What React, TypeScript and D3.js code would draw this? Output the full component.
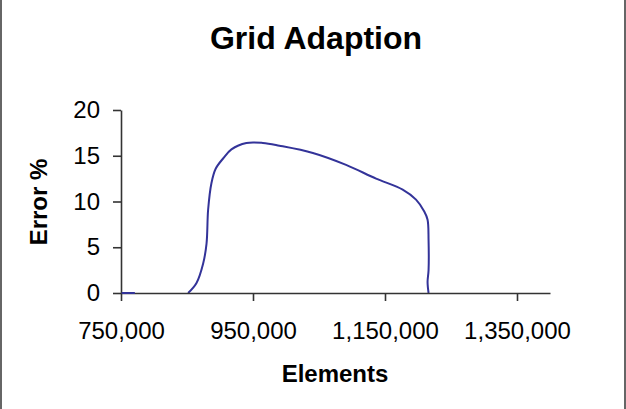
import React, { useRef, useEffect } from "react";
import * as d3 from "d3";

const width = 626;
const height = 409;
const margin = { top: 110, left: 121, bottom: 116, right: 76 };

// x = number of elements, y = error %
const elements = [
  851700, 864400, 874400, 879600, 882000, 887000, 893600, 904700, 917300,
  940000, 965000, 990000, 1040700, 1091000, 1136500, 1176800, 1197000,
  1209500, 1214500, 1216000, 1216000, 1214500, 1216000,
];
const errorPct = [
  0, 1.1, 3.2, 5.4, 9.1, 12.0, 13.6, 14.7, 15.7, 16.4, 16.4, 16.1, 15.3,
  14.0, 12.5, 11.3, 10.2, 8.9, 8.0, 5.8, 2.5, 1.2, 0,
];
// short blue piece lying on the axis at the left end
const leadElements = [751000, 771000];
const leadError = [0, 0];

const xTicks = [750000, 950000, 1150000, 1350000];
const yTicks = [0, 5, 10, 15, 20];
const xDomain = [750000, 1400000];
const yDomain = [0, 20];

const font = "'Liberation Sans', Arial, Helvetica, sans-serif";

const App = () => {
  const xRef = useRef<SVGGElement>(null);
  const yRef = useRef<SVGGElement>(null);

  const x = d3.scaleLinear().domain(xDomain).range([margin.left, width - margin.right]);
  const y = d3.scaleLinear().domain(yDomain).range([height - margin.bottom, margin.top]);

  useEffect(() => {
    const xa = d3.select(xRef.current);
    xa.selectAll("*").remove();
    xa.call(
      d3.axisBottom(x).tickValues(xTicks).tickFormat(d3.format(",")).tickSize(8).tickSizeOuter(0).tickPadding(21)
    );
    const ya = d3.select(yRef.current);
    ya.selectAll("*").remove();
    ya.call(d3.axisLeft(y).tickValues(yTicks).tickSize(8).tickSizeOuter(0).tickPadding(13));

    [xa, ya].forEach((g) => {
      g.selectAll("path, line").attr("stroke", "#333").attr("stroke-width", 1.6);
      g.selectAll("text").attr("fill", "#000").style("font-family", font).style("font-size", "24px");
      g.attr("font-family", null).attr("font-size", null);
    });
  }, []);

  const line = d3
    .line<number>()
    .x((d, i) => x(elements[i]))
    .y((d) => y(d))
    .curve(d3.curveCatmullRom.alpha(0.5));

  const lead = d3
    .line<number>()
    .x((d, i) => x(leadElements[i]))
    .y((d) => y(d));

  return (
    <div>
      <style>{"body{margin:0}"}</style>
      <svg width={width} height={height} style={{ display: "block", background: "#fff" }}>
        <line x1={1} x2={1} y1={0} y2={height} stroke="#666" strokeWidth={2} />
        <line x1={width - 1} x2={width - 1} y1={0} y2={height} stroke="#666" strokeWidth={2} />
        <text x={316} y={49} textAnchor="middle" fontFamily={font} fontWeight="bold" fontSize={32}>
          Grid Adaption
        </text>
        <path d={line(errorPct) || ""} fill="none" stroke="#333399" strokeWidth={2} />
        <g ref={xRef} transform={`translate(0,${height - margin.bottom})`} />
        <g ref={yRef} transform={`translate(${margin.left},0)`} />
        <path d={lead(leadError) || ""} fill="none" stroke="#333399" strokeWidth={2} />
        <text x={335} y={382} textAnchor="middle" fontFamily={font} fontWeight="bold" fontSize={24}>
          Elements
        </text>
        <text
          transform={`translate(47,202) rotate(-90)`}
          textAnchor="middle"
          fontFamily={font}
          fontWeight="bold"
          fontSize={24}
        >
          Error %
        </text>
      </svg>
    </div>
  );
};

export default App;
